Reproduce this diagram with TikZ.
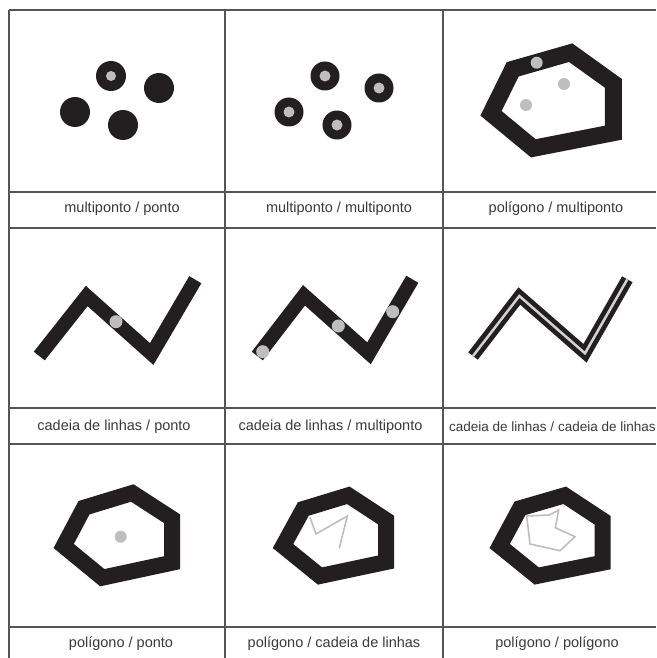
\documentclass[tikz,border=0pt]{standalone}
\usepackage{fontspec}
\setmainfont{Liberation Sans}
\usepackage{xcolor}
\definecolor{rule}{HTML}{555555}
\definecolor{ink}{HTML}{231F20}
\definecolor{dotgray}{HTML}{BEBEBE}
\definecolor{captext}{HTML}{3A3A3A}

\begin{document}
\begin{tikzpicture}[x=1pt,y=-1pt,
    cellrule/.style={rule,line width=1.8pt},
    caption/.style={font=\fontsize{14.5}{16}\selectfont,text=captext,inner sep=0pt},
    blackdot/.style={fill=ink},
    greydot/.style={fill=dotgray},
    chain/.style={ink,line width=14pt,line cap=butt,line join=miter},
    ring/.style={ink,line width=16pt,line join=miter}
]
\useasboundingbox (0,0) rectangle (656,658);
\fill[white] (0,0) rectangle (656,658);

% grid
\foreach \gx in {9,225,443}
  \draw[cellrule] (\gx,10) -- (\gx,658);
\foreach \gy in {10,192,228,408,444,627}
  \draw[cellrule] (9,\gy) -- (656,\gy);

% multiponto / ponto
\fill[blackdot] (111,76) circle (15);
\fill[greydot] (111,76) circle (5);
\fill[blackdot] (159,88) circle (15);
\fill[blackdot] (75,112) circle (15);
\fill[blackdot] (123,125) circle (15);

% multiponto / multiponto
\foreach \px/\py in {325/76,379/88,289/112,337/125}{
  \fill[blackdot] (\px,\py) circle (14.5);
  \fill[greydot] (\px,\py) circle (5.5);
}

% poligono / multiponto
\draw[ring,line width=17pt] (570.7,52.7) -- (613.3,83.3) -- (613.3,132.7)
  -- (533.3,148.3) -- (491,113.3) -- (512.7,69.3) -- cycle;
\fill[greydot] (536.7,62.7) circle (6);
\fill[greydot] (564,84) circle (6);
\fill[greydot] (526,105) circle (6);

% cadeia de linhas / ponto
\draw[chain] (39.3,356) -- (86.7,296) -- (151.7,354) -- (195.3,279.7);
\fill[greydot] (116,321.7) circle (6.5);

% cadeia de linhas / multiponto
\draw[chain] (257.3,356) -- (304,295.3) -- (369,353.3) -- (412.3,279.3);
\fill[greydot] (262.7,351.7) circle (6.5);
\fill[greydot] (338.3,326) circle (6.5);
\fill[greydot] (392.7,311.7) circle (6.5);

% cadeia de linhas / cadeia de linhas
\draw[chain,line width=12pt] (473,356) -- (519.3,296) -- (585,353.3) -- (627.3,279.3);
\draw[dotgray!70,line width=2.5pt] (473,356) -- (519.3,296) -- (585,353.3) -- (627.3,279.3);

% poligono / ponto
\draw[ring] (132.3,493) -- (172,518.7) -- (172,562.7) -- (102.3,577.7)
  -- (63.7,546) -- (84,507.7) -- cycle;
\fill[greydot] (120.7,536.7) circle (6);

% poligono / cadeia de linhas
\draw[ring] (348.3,495.3) -- (386,520) -- (386,562) -- (320,576)
  -- (283,546) -- (303.3,509) -- cycle;
\draw[dotgray,line width=1.6pt] (310,517.3) -- (316,534) -- (347.3,516) -- (339.3,548.3);

% poligono / poligono
\draw[ring] (564.7,495.3) -- (602.7,520.3) -- (602.7,562.7) -- (536.7,576)
  -- (499.7,546) -- (520,508.3) -- cycle;
\draw[dotgray,line width=1.6pt] (526.7,516) -- (549.3,515) -- (558.7,510) -- (555.3,527.7)
  -- (575,536.7) -- (560,550.7) -- (530,544) -- cycle;

% captions
\node[caption] (capA) at (122,209) {multiponto / ponto};
\node[caption] (capB) at (339,209) {multiponto / multiponto};
\node[caption] (capC) at (556,209) {polígono / multiponto};
\node[caption] (capD) at (114,426.5) {cadeia de linhas / ponto};
\node[caption] (capE) at (330.5,426.5) {cadeia de linhas / multiponto};
\node[caption,anchor=west,font=\fontsize{13.5}{16}\selectfont] (capF) at (449,426.5) {cadeia de linhas / cadeia de linhas};
\node[caption] (capG) at (121,644) {polígono / ponto};
\node[caption] (capH) at (334,644) {polígono / cadeia de linhas};
\node[caption] (capI) at (557,644) {polígono / polígono};
\end{tikzpicture}
\end{document}
